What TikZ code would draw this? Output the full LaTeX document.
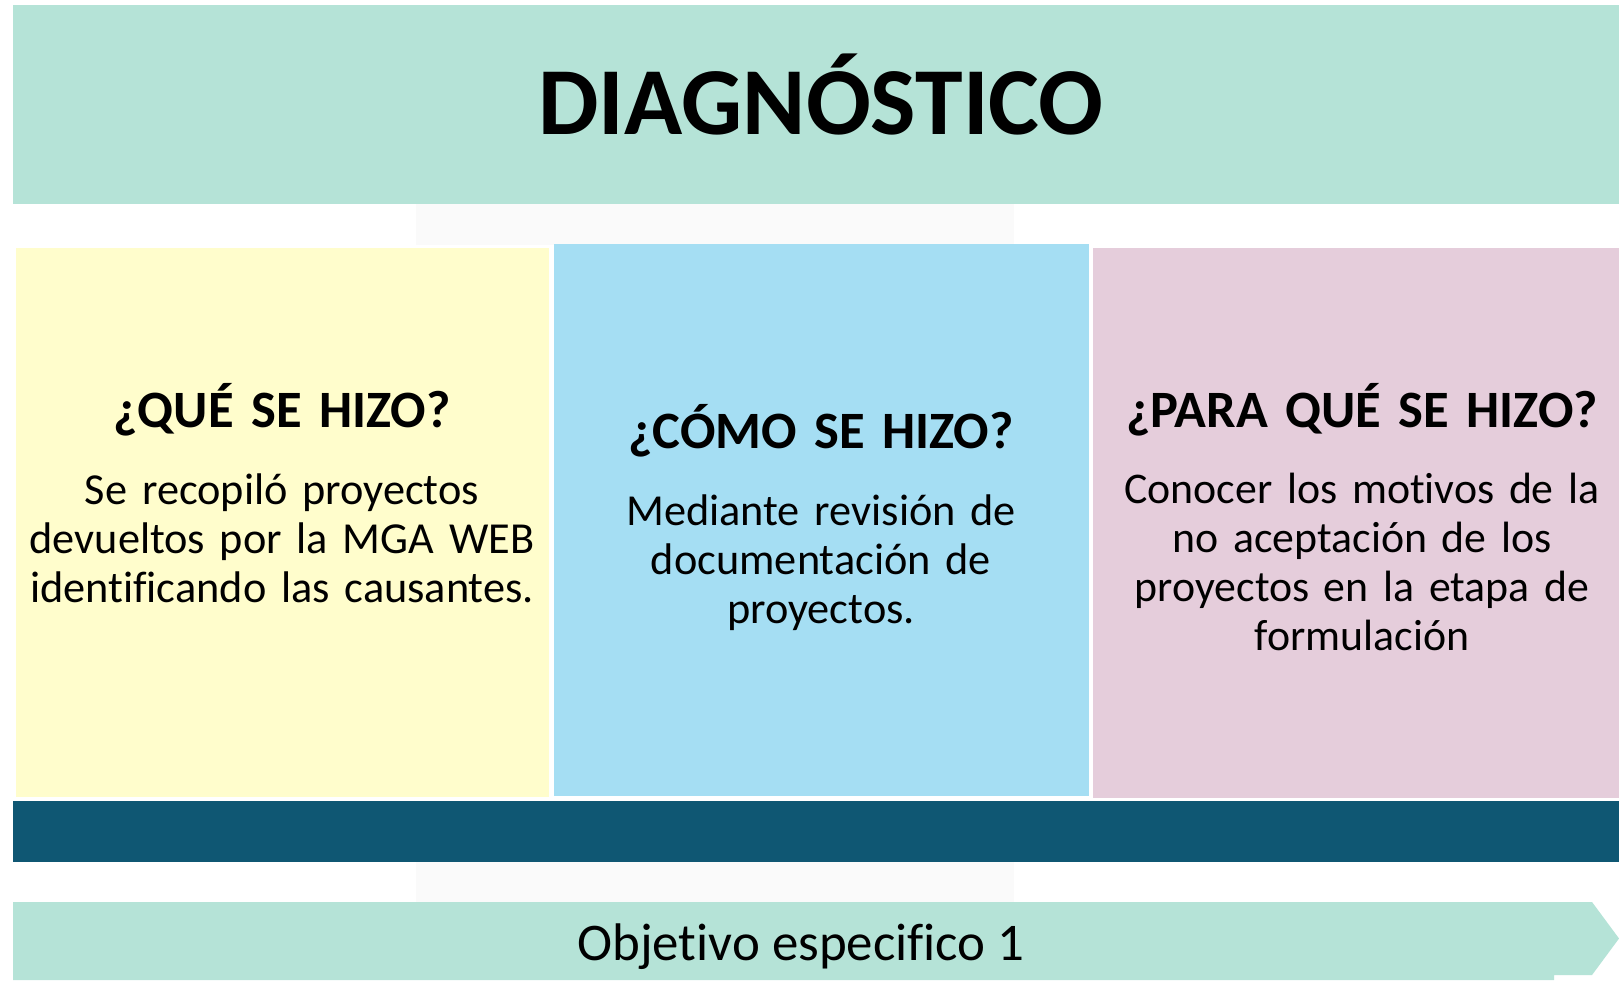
\documentclass[tikz,border=0pt]{standalone}
\usepackage{fontspec}
\setmainfont{Carlito}[Ligatures=NoCommon]
\definecolor{mint}{HTML}{B5E3D7}
\definecolor{ghost}{HTML}{FAFAFA}
\definecolor{paleyellow}{HTML}{FFFDCC}
\definecolor{paleblue}{HTML}{A5DEF3}
\definecolor{palepink}{HTML}{E5CDDB}
\definecolor{darkteal}{HTML}{0F5773}
\tikzset{
  headtxt/.style={anchor=base, inner sep=0pt, text width=520pt, align=center,
    font=\fontsize{52.5}{60}\selectfont\bfseries},
  bodytxt/.style={anchor=base, inner sep=0pt, text width=530pt, align=center,
    font=\fontsize{44.3}{49}\selectfont},
}
\begin{document}
\begin{tikzpicture}[x=1pt,y=-1pt]
\useasboundingbox (0,0) rectangle (1619,980);
\fill[white] (0,0) rectangle (1619,980);
% faint grey backdrops
\fill[ghost] (416,204) rectangle (1014,245);
\fill[ghost] (416,862) rectangle (1014,902);
% top banner
\fill[mint] (13,5) rectangle (1619,204);
\node[anchor=base, inner sep=0pt, font=\fontsize{96}{110}\selectfont\bfseries] (title) at (821,134) {DIAGNÓSTICO};
% columns
\fill[paleyellow] (15.5,248) rectangle (549,797);
\fill[paleblue] (554,244) rectangle (1089,796);
\fill[palepink] (1093,248) rectangle (1619,798);
\node[headtxt] (q1) at (282,427) {¿QUÉ SE HIZO?};
\node[bodytxt] (a1) at (282,504) {Se recopiló proyectos\\devueltos por la MGA WEB\\identificando las causantes.};
\node[headtxt] (q2) at (821,448) {¿CÓMO SE HIZO?};
\node[bodytxt] (a2) at (821,525) {Mediante revisión de\\documentación de\\proyectos.};
\node[headtxt] (q3) at (1362,427) {¿PARA QUÉ SE HIZO?};
\node[bodytxt, font=\fontsize{43.8}{49}\selectfont] (a3) at (1362,503) {Conocer los motivos de la\\no aceptación de los\\proyectos en la etapa de\\formulación};
% dark bar
\fill[darkteal] (13,801) rectangle (1619,862);
% bottom arrow
\fill[mint] (13,902) -- (1592,902) -- (1619,938.5) -- (1592,975) -- (1554,975) -- (1554,980) -- (13,980) -- cycle;
\node[anchor=base, inner sep=0pt, font=\fontsize{52.9}{60}\selectfont] (obj) at (801,960) {Objetivo especifico 1};
\end{tikzpicture}
\end{document}
